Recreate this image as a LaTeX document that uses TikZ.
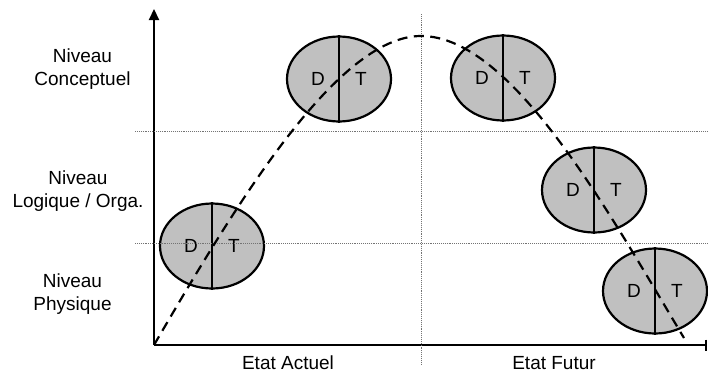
\documentclass[tikz,border=0pt]{standalone}
\usepackage{fontspec}
\setmainfont{Liberation Sans}
\usetikzlibrary{shapes.geometric,arrows.meta}
\definecolor{shade}{HTML}{C0C0C0}
\tikzset{
  dt/.style={ellipse, draw=black, line width=2.2pt, fill=shade, minimum width=104pt, minimum height=85pt, inner sep=0pt},
  lbl/.style={font=\fontsize{19}{23}\selectfont, align=center, inner sep=0pt, text=black},
  grid/.style={densely dotted, black!55, line width=0.9pt},
  axis/.style={line width=2.2pt},
  curve/.style={dash pattern=on 10pt off 6.5pt, line width=2.2pt}
}
\begin{document}
\begin{tikzpicture}[x=1pt,y=-1pt]
\useasboundingbox (0,0) rectangle (708,375);
% coordinates
\coordinate (O) at (154,345);
\coordinate (Ytop) at (154,9);
\coordinate (Xend) at (707,345);
\coordinate (P) at (421,36);
\coordinate (E) at (684,338);
\coordinate (G1a) at (135,131);
\coordinate (G1b) at (707,131);
\coordinate (G2a) at (135,243);
\coordinate (G2b) at (707,243);
\coordinate (Va) at (421,14);
\coordinate (Vb) at (421,364);
% ellipses
\foreach \n/\x/\y in {e1/212/246, e2/339/79, e3/503/78, e4/594/190, e5/655/291}{
  \node[dt] (\n) at (\x,\y) {};
  \draw[line width=2.2pt] (\n.north) -- (\n.south);
  \node[lbl] (\n D) at ([xshift=-21pt]\n.center) {D};
  \node[lbl] (\n T) at ([xshift=22pt]\n.center) {T};
}
% axes
\draw[axis,-{Triangle[width=10pt,length=11pt]}] (O) -- (Ytop);
\draw[axis,-{Bar[width=11pt]}] (O) -- (Xend);
% grid
\draw[grid] (G1a) -- (G1b);
\draw[grid] (G2a) -- (G2b);
\draw[grid] (Va) -- (Vb);
% curve
\draw[curve] (O) .. controls (230,215) and (335,36) .. (P)
  .. controls (512,36) and (609,213) .. (E);
% labels
\node[lbl] (n1) at (82.5,69) {Niveau\\Conceptuel};
\node[lbl] (n2) at (78,191) {Niveau\\Logique / Orga.};
\node[lbl] (n3) at (72.5,294) {Niveau\\Physique};
\node[lbl] (a1) at (288,363) {Etat Actuel};
\node[lbl] (a2) at (554,363) {Etat Futur};
\end{tikzpicture}
\end{document}
